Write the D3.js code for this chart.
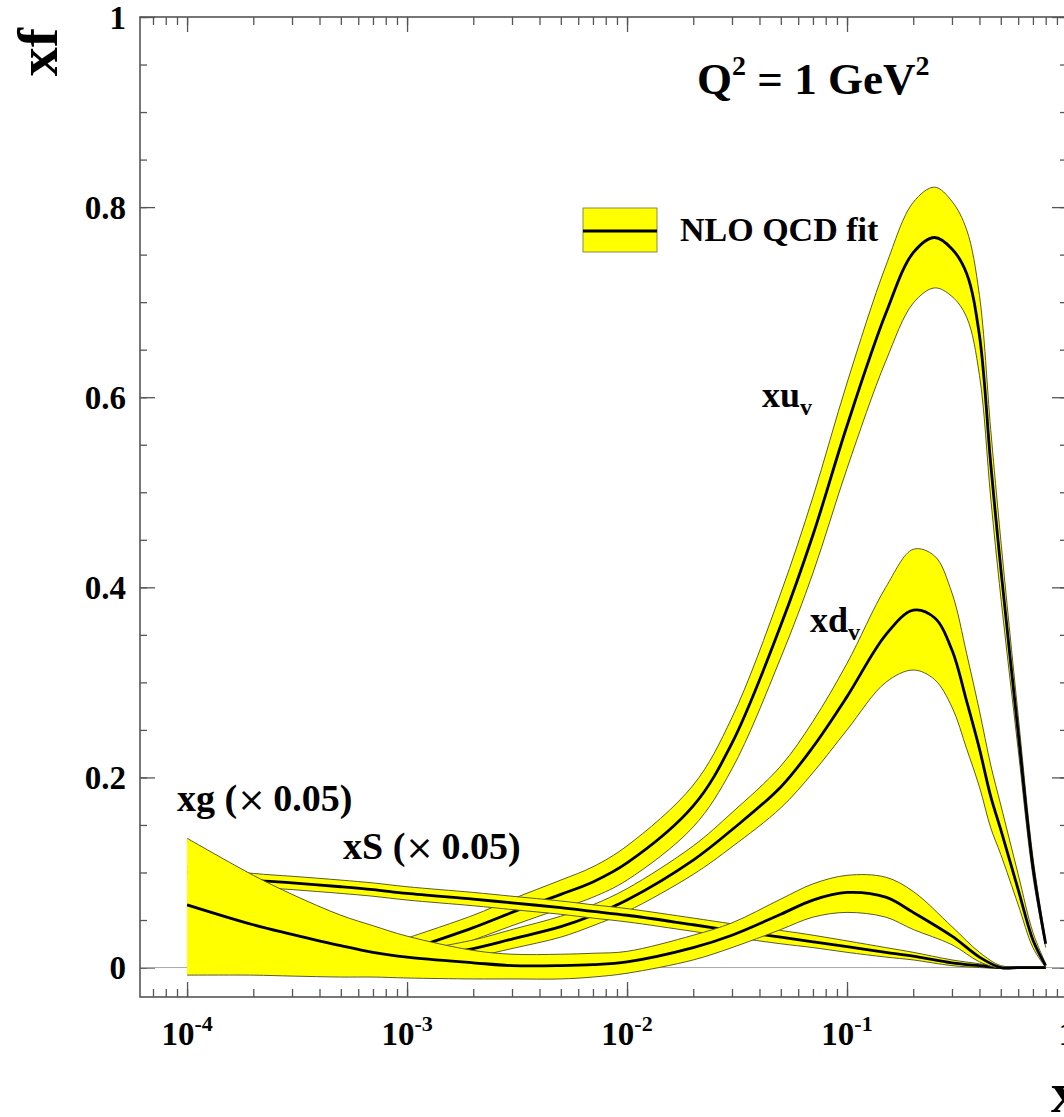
<!DOCTYPE html>
<html>
<head>
<meta charset="utf-8">
<script src="https://cdn.jsdelivr.net/npm/d3@7"></script>
<style>
	body { margin: 0; background: #fff; overflow: hidden; }
	text { font-family: 'Liberation Serif', 'Times New Roman', serif; font-weight: bold; fill: #000; }
</style>
</head>
<body>
<script>
(function(document, window){
'use strict';

// valence grid (x) and curves
var xVal = [0.001, 0.002, 0.003, 0.005, 0.007, 0.01, 0.02, 0.03, 0.05, 0.07, 0.1,
			0.15, 0.2, 0.25, 0.3, 0.35, 0.4, 0.45, 0.5, 0.6, 0.7, 0.8];

var xuv   = [0.018, 0.042, 0.058, 0.077, 0.090, 0.110, 0.170, 0.236, 0.360, 0.455, 0.570,
			0.688, 0.752, 0.768, 0.756, 0.730, 0.665, 0.530, 0.420, 0.247, 0.106, 0.025];
var xuvHi = [0.031, 0.055, 0.072, 0.092, 0.106, 0.128, 0.192, 0.263, 0.394, 0.495, 0.615,
			0.738, 0.805, 0.821, 0.806, 0.776, 0.707, 0.566, 0.450, 0.265, 0.116, 0.029];
var xuvLo = [0.005, 0.029, 0.044, 0.062, 0.074, 0.092, 0.148, 0.209, 0.326, 0.415, 0.525,
			0.638, 0.699, 0.715, 0.706, 0.684, 0.623, 0.494, 0.390, 0.229, 0.096, 0.021];

var xdv   = [0.008, 0.020, 0.030, 0.043, 0.055, 0.071, 0.113, 0.145, 0.190, 0.232, 0.285,
			0.350, 0.376, 0.368, 0.334, 0.280, 0.230, 0.180, 0.145, 0.082, 0.029, 0.002];
var xdvHi = [0.016, 0.029, 0.040, 0.054, 0.066, 0.083, 0.128, 0.163, 0.212, 0.259, 0.320,
			0.400, 0.440, 0.433, 0.394, 0.330, 0.270, 0.213, 0.171, 0.098, 0.037, 0.004];
var xdvLo = [0.000, 0.011, 0.020, 0.032, 0.044, 0.059, 0.098, 0.127, 0.168, 0.205, 0.250,
			0.300, 0.313, 0.303, 0.274, 0.230, 0.190, 0.147, 0.119, 0.066, 0.021, 0.000];

// sea grid (x) and gluon / sea curves (already x 0.05)
var xSea = [1e-4, 2e-4, 3e-4, 5e-4, 7e-4, 1e-3, 2e-3, 3e-3, 5e-3, 7e-3, 0.01, 0.02,
			0.03, 0.05, 0.07, 0.1, 0.15, 0.2, 0.3, 0.4, 0.5, 0.6, 0.7, 0.8];

var xg   = [0.066, 0.045, 0.035, 0.023, 0.016, 0.011, 0.005, 0.002, 0.002, 0.003, 0.006, 0.021,
			0.034, 0.056, 0.071, 0.079, 0.074, 0.058, 0.033, 0.011, 0.000, 0.000, 0.000, 0.000];
var xgHi = [0.136, 0.097, 0.077, 0.055, 0.044, 0.033, 0.018, 0.014, 0.014, 0.015, 0.017, 0.034,
			0.047, 0.072, 0.088, 0.097, 0.095, 0.080, 0.043, 0.016, 0.002, 0.001, 0.001, 0.001];
var xgLo = [-0.008, -0.008, -0.009, -0.010, -0.010, -0.011, -0.012, -0.012, -0.012, -0.010, -0.006, 0.008,
			0.021, 0.040, 0.053, 0.058, 0.053, 0.040, 0.024, 0.006, -0.001, -0.001, -0.001, -0.001];

var xS   = [0.100, 0.092, 0.089, 0.085, 0.082, 0.078, 0.072, 0.068, 0.063, 0.059, 0.055, 0.045,
			0.039, 0.032, 0.027, 0.022, 0.016, 0.012, 0.005, 0.002, 0.000, 0.000, 0.000, 0.000];
var xSHi = [0.107, 0.099, 0.096, 0.092, 0.089, 0.085, 0.079, 0.075, 0.070, 0.066, 0.062, 0.052,
			0.046, 0.039, 0.034, 0.028, 0.021, 0.016, 0.008, 0.004, 0.001, 0.001, 0.001, 0.001];
var xSLo = [0.093, 0.085, 0.082, 0.078, 0.075, 0.071, 0.065, 0.061, 0.056, 0.052, 0.048, 0.038,
			0.032, 0.025, 0.021, 0.016, 0.011, 0.008, 0.002, 0.000, -0.001, -0.001, -0.001, -0.001];

var xMajor = [1e-4, 1e-3, 1e-2, 1e-1, 1];
var xMajorLabels = [['10', '-4'], ['10', '-3'], ['10', '-2'], ['10', '-1'], ['1', '']];
var yMajor = [0, 0.2, 0.4, 0.6, 0.8, 1];
var yMajorLabels = ['0', '0.2', '0.4', '0.6', '0.8', '1'];

var width = 1064;
var height = 1117;
var left = 140, right = 1067, top = 17, bottom = 997;

var svg = d3.select('body').append('svg')
			.attr('width', width)
			.attr('height', height);

var x = d3.scaleLog().domain([6.11e-5, 1]).range([left, right]);
var y = d3.scaleLinear().domain([-0.031, 1]).range([bottom, top]);

// minor ticks
var xMinor = [];
[-5, -4, -3, -2, -1].forEach(function(p){
	for(var k=1; k<10; k++){
		var v = k*Math.pow(10, p);
		if(v >= 6.11e-5 && v <= 1){ xMinor.push(v); }
	}
});
var yMinor = d3.range(0, 21).map(function(i){ return i*0.05; });

function styleAxis(g){
	g.select('.domain').remove();
	g.selectAll('line').attr('stroke', '#555').attr('stroke-width', 1.3);
}

svg.append('g').attr('transform', 'translate(0,' + bottom + ')')
	.call(d3.axisTop(x).tickValues(xMinor).tickSize(8).tickFormat(''))
	.call(styleAxis);
svg.append('g').attr('transform', 'translate(0,' + bottom + ')')
	.call(d3.axisTop(x).tickValues(xMajor).tickSize(15).tickFormat(''))
	.call(styleAxis);
svg.append('g').attr('transform', 'translate(0,' + top + ')')
	.call(d3.axisBottom(x).tickValues(xMinor).tickSize(8).tickFormat(''))
	.call(styleAxis);
svg.append('g').attr('transform', 'translate(0,' + top + ')')
	.call(d3.axisBottom(x).tickValues(xMajor).tickSize(15).tickFormat(''))
	.call(styleAxis);

svg.append('g').attr('transform', 'translate(' + left + ',0)')
	.call(d3.axisRight(y).tickValues(yMinor).tickSize(7).tickFormat(''))
	.call(styleAxis);
svg.append('g').attr('transform', 'translate(' + left + ',0)')
	.call(d3.axisRight(y).tickValues(yMajor).tickSize(15).tickFormat(''))
	.call(styleAxis);
svg.append('g').attr('transform', 'translate(' + right + ',0)')
	.call(d3.axisLeft(y).tickValues(yMinor).tickSize(7).tickFormat(''))
	.call(styleAxis);
svg.append('g').attr('transform', 'translate(' + right + ',0)')
	.call(d3.axisLeft(y).tickValues(yMajor).tickSize(15).tickFormat(''))
	.call(styleAxis);

// zero line
svg.append('line')
	.attr('x1', left).attr('x2', right)
	.attr('y1', y(0)).attr('y2', y(0))
	.attr('stroke', '#aaa')
	.attr('stroke-width', 1);

// clip
svg.append('clipPath').attr('id', 'plotclip')
	.append('rect')
	.attr('x', left).attr('y', top)
	.attr('width', right - left).attr('height', bottom - top);

var plot = svg.append('g').attr('clip-path', 'url(#plotclip)');

var smooth = d3.curveCatmullRom.alpha(0.5);

function drawBand(xs, mid, hi, lo){
	var pts = xs.map(function(d, i){ return {x: d, m: mid[i], h: hi[i], l: lo[i]}; });
	var area = d3.area()
				.x(function(d){ return x(d.x); })
				.y0(function(d){ return y(d.l); })
				.y1(function(d){ return y(d.h); })
				.curve(smooth);
	var line = function(key){
		return d3.line()
				.x(function(d){ return x(d.x); })
				.y(function(d){ return y(d[key]); })
				.curve(smooth);
	};
	plot.append('path').datum(pts)
		.attr('d', area)
		.attr('fill', '#ffff00')
		.attr('stroke', 'none');
	plot.append('path').datum(pts)
		.attr('d', line('h'))
		.attr('fill', 'none')
		.attr('stroke', '#5a5a30')
		.attr('stroke-width', 1);
	plot.append('path').datum(pts)
		.attr('d', line('l'))
		.attr('fill', 'none')
		.attr('stroke', '#5a5a30')
		.attr('stroke-width', 1);
	plot.append('path').datum(pts)
		.attr('d', line('m'))
		.attr('fill', 'none')
		.attr('stroke', '#000')
		.attr('stroke-width', 2.8);
}

drawBand(xVal, xuv, xuvHi, xuvLo);
drawBand(xVal, xdv, xdvHi, xdvLo);
drawBand(xSea, xS, xSHi, xSLo);
drawBand(xSea, xg, xgHi, xgLo);

// frame
svg.append('rect')
	.attr('x', left).attr('y', top)
	.attr('width', right - left).attr('height', bottom - top)
	.attr('fill', 'none')
	.attr('stroke', '#555')
	.attr('stroke-width', 1.6);

// tick labels
yMajor.forEach(function(v, i){
	svg.append('text')
		.attr('x', 126)
		.attr('y', y(v))
		.attr('dy', '0.36em')
		.attr('text-anchor', 'end')
		.attr('font-size', 33)
		.text(yMajorLabels[i]);
});

xMajor.forEach(function(v, i){
	var t = svg.append('text')
				.attr('x', x(v))
				.attr('y', 1045)
				.attr('text-anchor', 'middle')
				.attr('font-size', 33);
	t.append('tspan').text(xMajorLabels[i][0]);
	if(xMajorLabels[i][1] !== ''){
		t.append('tspan')
			.attr('font-size', 22)
			.attr('dy', -14)
			.text(xMajorLabels[i][1]);
	}
});

// axis titles
svg.append('text')
	.attr('transform', 'translate(57,28) rotate(-90)')
	.attr('text-anchor', 'end')
	.attr('font-size', 58)
	.text('xf');

svg.append('text')
	.attr('x', 1080)
	.attr('y', 1112)
	.attr('text-anchor', 'end')
	.attr('font-size', 58)
	.text('x');

// Q2 label
var q = svg.append('text')
			.attr('x', 697)
			.attr('y', 94)
			.attr('font-size', 45);
q.append('tspan').text('Q');
q.append('tspan').attr('font-size', 28).attr('dy', -19).text('2');
q.append('tspan').attr('dy', 19).text(' = 1 GeV');
q.append('tspan').attr('font-size', 28).attr('dy', -19).text('2');

// legend
svg.append('rect')
	.attr('x', 583).attr('y', 208)
	.attr('width', 74).attr('height', 44)
	.attr('fill', '#ffff00')
	.attr('stroke', '#8a8a50')
	.attr('stroke-width', 1);
svg.append('line')
	.attr('x1', 583).attr('x2', 657)
	.attr('y1', 231).attr('y2', 231)
	.attr('stroke', '#000')
	.attr('stroke-width', 2.8);
svg.append('text')
	.attr('x', 680).attr('y', 241)
	.attr('font-size', 34)
	.text('NLO QCD fit');

// curve labels
function subLabel(px, py, main, sub){
	var t = svg.append('text')
				.attr('x', px).attr('y', py)
				.attr('font-size', 36);
	t.append('tspan').text(main);
	t.append('tspan').attr('font-size', 24).attr('dy', 8).text(sub);
}
subLabel(762, 407, 'xu', 'v');
subLabel(810, 632, 'xd', 'v');

function scaleLabel(px, py, main){
	var t = svg.append('text')
				.attr('x', px).attr('y', py)
				.attr('font-size', 38);
	t.append('tspan').text(main + ' (');
	t.append('tspan')
		.style('font-family', "'DejaVu Serif', serif")
		.style('font-weight', 'normal')
		.attr('font-size', 34)
		.text('\u00d7');
	t.append('tspan').text('\u20090.05)');
}
scaleLabel(177, 811, 'xg');
scaleLabel(343, 859, 'xS');

})(document, window);
</script>
</body>
</html>
